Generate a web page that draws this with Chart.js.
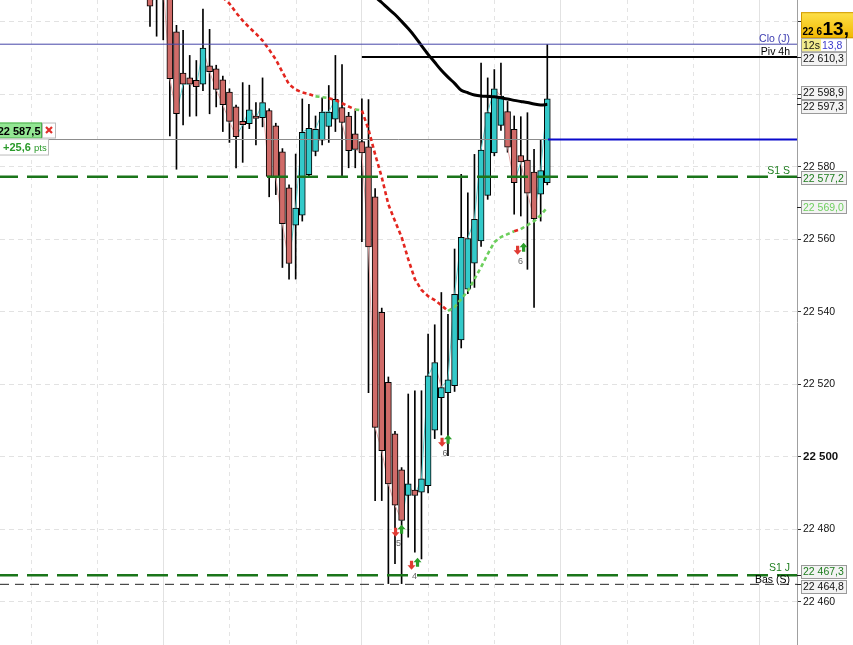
<!DOCTYPE html>
<html><head><meta charset="utf-8">
<script src="https://cdn.jsdelivr.net/npm/chart.js@4.4.1/dist/chart.umd.min.js"></script>
<style>html,body{margin:0;padding:0;background:#fff;overflow:hidden}#wrap{width:853px;height:645px}</style>
</head><body><div id="wrap"><canvas id="c" width="853" height="645"></canvas></div>
<script>
// ---------- DATA ----------
const opens  = [22632,22631,22629,22631,22617.2,22605.8,22604.5,22603.8,22602.8,22607.8,22607,22604,22600.6,22596.5,22592.5,22591.9,22594,22593.5,22595.5,22591.3,22584.1,22574.2,22563.9,22566.6,22577.8,22584.2,22587.3,22591.1,22593.1,22596.3,22594,22589.1,22586.9,22585.5,22571.7,22539.8,22520.5,22506.3,22496.4,22489.3,22490.8,22490.2,22492,22507.3,22516.3,22517.7,22519.6,22532.2,22546.2,22553.4,22559.5,22572.1,22583.8,22591.4,22595.2,22590.3,22583.1,22581.8,22578.5,22572.4,22575.6];
const highs  = [22636,22637,22635,22634,22619,22617.6,22610.7,22609.3,22623.5,22617.9,22608,22605,22601.5,22597,22603.2,22602.5,22597.7,22604.5,22596,22592,22585,22575,22583.5,22598.7,22597.2,22594,22599,22602.4,22610.7,22608.2,22595,22595.4,22598.7,22598.5,22574,22541,22522,22507,22497,22517.3,22518.2,22518.2,22533.8,22536.4,22545.3,22539.3,22557.3,22577.9,22572.8,22583.4,22608.6,22604.5,22606.8,22608.6,22598,22594,22593.8,22594.9,22584.8,22587.5,22613.7];
const lows   = [22618.7,22616,22615,22588.5,22579.3,22591.5,22593.9,22594,22601,22594.6,22596.5,22589.7,22586.7,22579.7,22581.2,22590.5,22586,22591,22571.7,22572.3,22552.2,22549,22549,22565,22577,22583,22586,22586.7,22589.7,22577,22579.7,22579.7,22559.3,22517.7,22487.9,22487.9,22465,22470.5,22465,22477.8,22473.7,22471.8,22490,22505,22506,22500.3,22518,22530,22545,22546.7,22558,22571,22583,22590,22584,22566.9,22566.4,22551.7,22541.2,22565,22575];
const closes = [22624.3,22628,22630,22604.3,22594.6,22602.8,22602.8,22602.1,22612.7,22606.2,22601.3,22597.1,22592.5,22588.3,22591.6,22595.7,22593.3,22597.7,22577.3,22577.1,22564.3,22553.3,22568.6,22589.5,22590.6,22590.3,22595.1,22595.1,22598.6,22592.2,22584.4,22584.8,22583.8,22557.9,22508.1,22501.7,22492.5,22486.6,22482.4,22492.5,22489.3,22493.9,22522.3,22526,22519.1,22521.2,22544.8,22560.5,22560.2,22565.5,22584.6,22594.9,22601.5,22599.5,22585.4,22575.6,22581.3,22572.7,22565.7,22578.9,22598.7];

// moving average (black), starts at candle 30
const maStart = 30;
const maValues = [22635.2,22633.3,22631.1,22628.9,22626.9,22625.3,22623.6,22622.0,22620.1,22618.1,22615.9,22613.4,22611.0,22608.8,22606.6,22604.7,22603.0,22601.1,22600.4,22599.8,22599.5,22599.4,22599.3,22599.0,22598.7,22598.3,22598.0,22597.7,22597.3,22597.0,22597.2];

// trailing stop (red/green dotted), starts at candle 11
const stStart = 11;
const stValues = [22626.7,22625.0,22622.5,22620.3,22618.4,22616.7,22614.8,22612.3,22609.6,22606.1,22602.7,22601.3,22600.5,22600.0,22599.4,22599.2,22598.9,22598.4,22597.5,22596.6,22595.8,22595.5,22590.3,22583.4,22577.1,22569.6,22565.0,22560.6,22554.5,22549.0,22546.0,22544.3,22543.2,22541.8,22540.2,22541.3,22543.5,22545.7,22549.0,22552.3,22555.9,22559.2,22560.6,22561.4,22562.2,22562.8,22563.9,22565.0,22566.6,22568.8];
const stTrend  = [-1,-1,-1,-1,-1,-1,-1,-1,-1,-1,-1,-1,-1,-1,1,1,-1,-1,-1,-1,1,-1,-1,-1,-1,-1,-1,-1,-1,-1,-1,-1,-1,-1,1,1,1,1,1,1,1,1,1,1,-1,1,1,1,1,1];

// horizontal levels
const cloJ = 22613.8, piv4h = 22610.3, pivStart = 32, s1S = 22577.2, s1J = 22467.3, basS = 22464.8;
const position = 22587.5, positionStart = 60.1;
const positionText = '22 587,5', pnlText = '+25,6', pnlUnit = 'pts';

// signals
const sigIdx   = [37.54, 39.95, 44.56, 55.97];
const sigPrice = [22479.6, 22470.5, 22504.4, 22557.4];
const sigLabel = ['5','4','6','6'];

// axes
const yTickValues = [22460,22480,22500,22520,22540,22560,22580,22600,22620];
const yHidden = [22600,22620];
const xGridSolid  = [2,32,62,92];
const xGridDashed = [-18,-8,12,22,42,52,72,82];

// right-side value boxes
const boxValues = [22610.3,22598.9,22597.3,22577.2,22569.0,22467.3,22464.8];
const boxTexts  = ['22 610,3','22 598,9','22 597,3','22 577,2','22 569,0','22 467,3','22 464,8'];
const lineLabels = ['Clo (J)','Piv 4h','S1 S','S1 J','Bas (S)'];
const lastPriceBig = ['22 6','13,'], timerText = '12s', lastDecText = '13,8';

// ---------- STYLES ----------
const boxColors = ['#111','#111','#111','#1e7d1e','#6fcf5f','#1e7d1e','#111'];
const boxShift  = [2,-5.5,2.7,1.3,0.6,-3.5,2.7];
const RED = '#d06b68', CYAN = '#33c9c9', FONT = 'Liberation Sans, Arial, sans-serif';
const X_MIN = -22.65, X_MAX = 97.71, Y_MIN = 22448.06, Y_MAX = 22625.99;

const idx = opens.map((_, i) => i);
const wickData = idx.map(i => ({x: i, y: [lows[i], highs[i]]}));
const bodyData = idx.map(i => ({x: i, y: [opens[i], closes[i]]}));
const closeData = idx.map(i => ({x: i, y: closes[i]}));
const maData = maValues.map((v, k) => ({x: maStart + k, y: v}));
const stData = stValues.map((v, k) => ({x: stStart + k, y: v}));
const hline = (v, from, to) => [{x: from, y: v}, {x: to, y: v}];

const fmtTick = v => { const s = String(Math.round(v)); return s.slice(0, 2) + ' ' + s.slice(2); };

function rbox(ctx, x, y, w, h, fill, stroke) {
  ctx.fillStyle = fill; ctx.fillRect(x, y, w, h);
  if (stroke) { ctx.strokeStyle = stroke; ctx.lineWidth = 1; ctx.strokeRect(x + 0.5, y + 0.5, w - 1, h - 1); }
}
function arrow(ctx, cx, cy, up, color) {
  ctx.fillStyle = color; ctx.beginPath();
  const s = up ? 1 : -1;
  ctx.moveTo(cx, cy - 5 * s); ctx.lineTo(cx + 4, cy - 0.5 * s); ctx.lineTo(cx + 1.6, cy - 0.5 * s);
  ctx.lineTo(cx + 1.6, cy + 4 * s); ctx.lineTo(cx - 1.6, cy + 4 * s); ctx.lineTo(cx - 1.6, cy - 0.5 * s);
  ctx.lineTo(cx - 4, cy - 0.5 * s); ctx.closePath(); ctx.fill();
}

const overlay = {
  id: 'overlay',
  beforeDatasetsDraw(chart) {
    const {ctx, chartArea: a, scales: {x}} = chart;
    ctx.save();
    ctx.strokeStyle = '#e4e4e4'; ctx.lineWidth = 1; ctx.setLineDash([4, 4]);
    xGridDashed.forEach(v => {
      const px = Math.round(x.getPixelForValue(v)) + 0.5;
      ctx.beginPath(); ctx.moveTo(px, a.top); ctx.lineTo(px, a.bottom); ctx.stroke();
    });
    ctx.restore();
  },
  afterDatasetsDraw(chart) {
    const {ctx, chartArea: a, scales: {x, y}} = chart;
    ctx.save();
    sigIdx.forEach((s, k) => {
      const px = x.getPixelForValue(s), py = y.getPixelForValue(sigPrice[k]);
      arrow(ctx, px - 3, py + 1, false, '#e03a32');
      arrow(ctx, px + 3, py - 1, true, '#2a9e2a');
      ctx.fillStyle = '#666'; ctx.font = '9px ' + FONT; ctx.textAlign = 'center'; ctx.textBaseline = 'alphabetic';
      ctx.fillText(sigLabel[k], px, py + 15);
    });
    ctx.textAlign = 'right'; ctx.font = '10.5px ' + FONT;
    const lab = (t, v, c, dy) => { ctx.fillStyle = c; ctx.fillText(t, a.right - 7, y.getPixelForValue(v) + dy); };
    lab(lineLabels[0], cloJ, '#3b3bb0', -2.5);
    lab(lineLabels[1], piv4h, '#000', -2);
    lab(lineLabels[2], s1S, '#1e7d1e', -2.5);
    lab(lineLabels[3], s1J, '#1e7d1e', -4);
    lab(lineLabels[4], basS, '#000', -1.5);
    ctx.restore();
  },
  afterDraw(chart) {
    const {ctx, chartArea: a, scales: {y}} = chart;
    ctx.save();
    ctx.strokeStyle = '#a0a0a0'; ctx.lineWidth = 1;
    ctx.beginPath(); ctx.moveTo(a.right + 0.5, 0); ctx.lineTo(a.right + 0.5, chart.height); ctx.stroke();
    const bx = a.right + 4;
    ctx.textAlign = 'left'; ctx.textBaseline = 'middle'; ctx.font = '10.5px ' + FONT;
    boxValues.forEach((v, k) => {
      const py = y.getPixelForValue(v);
      ctx.strokeStyle = '#222'; ctx.beginPath(); ctx.moveTo(a.right, Math.round(py) + 0.5); ctx.lineTo(bx, Math.round(py) + 0.5); ctx.stroke();
      const cy = py + boxShift[k];
      rbox(ctx, bx, Math.round(cy - 7), 46, 14, '#f3f3f3', '#9a9a9a');
      ctx.fillStyle = boxColors[k]; ctx.fillText(boxTexts[k], bx + 2, cy + 0.5);
    });
    // yellow last price box
    const cyc = y.getPixelForValue(cloJ);
    const grad = ctx.createLinearGradient(0, cyc - 32, 0, cyc - 6);
    grad.addColorStop(0, '#fde04a'); grad.addColorStop(1, '#f2b800');
    rbox(ctx, bx, cyc - 32, 60, 26, grad, '#d29b00');
    ctx.fillStyle = '#000'; ctx.textBaseline = 'alphabetic';
    ctx.font = 'bold 10px ' + FONT; ctx.fillText(lastPriceBig[0], bx + 1.5, cyc - 9);
    ctx.font = 'bold 19px ' + FONT; ctx.fillText(lastPriceBig[1], bx + 21.5, cyc - 9);
    // timer / decimals box
    rbox(ctx, bx, cyc - 6, 46, 14, '#ffffff', '#9a9a9a');
    rbox(ctx, bx + 1, cyc - 5, 19, 12, '#f2eb8c', null);
    ctx.font = '10.5px ' + FONT; ctx.fillStyle = '#111'; ctx.fillText(timerText, bx + 2, cyc + 5);
    ctx.fillStyle = '#3b3bcc'; ctx.fillText(lastDecText, bx + 21, cyc + 5);
    // left position label
    const pp = y.getPixelForValue(position);
    rbox(ctx, -2, pp - 17, 44, 16, '#93e693', '#4caf4c');
    ctx.fillStyle = '#000'; ctx.font = 'bold 11px ' + FONT; ctx.textAlign = 'right';
    ctx.fillText(positionText, 40.5, pp - 5);
    rbox(ctx, 42, pp - 17, 14, 16, '#ffffff', '#bbbbbb');
    ctx.strokeStyle = '#e0302a'; ctx.lineWidth = 2.2; ctx.beginPath();
    ctx.moveTo(46, pp - 12.5); ctx.lineTo(52, pp - 6.5); ctx.moveTo(52, pp - 12.5); ctx.lineTo(46, pp - 6.5); ctx.stroke();
    rbox(ctx, -1, pp - 1, 50, 17, '#ffffff', '#bbbbbb');
    ctx.textAlign = 'left'; ctx.fillStyle = '#2a9a2a'; ctx.font = 'bold 11px ' + FONT;
    ctx.fillText(pnlText, 3, pp + 11.5);
    ctx.font = '9.5px ' + FONT; ctx.fillText(pnlUnit, 34, pp + 11.5);
    ctx.restore();
  }
};

new Chart(document.getElementById('c'), {
  type: 'bar',
  data: {
    datasets: [
      {type: 'bar', data: wickData, backgroundColor: '#000', borderWidth: 0, barThickness: 1, grouped: false, order: 10},
      {type: 'line', data: closeData, borderWidth: 1, pointRadius: 0, order: 9,
        segment: {borderColor: c => c.p1.parsed.y >= c.p0.parsed.y ? '#5fd6d6' : '#e6a7a7'}},
      {type: 'bar', data: bodyData, backgroundColor: idx.map(i => closes[i] >= opens[i] ? CYAN : RED),
        borderColor: '#000', borderWidth: 1, borderSkipped: false, barThickness: 6, grouped: false, order: 8},
      {type: 'line', data: hline(position, X_MIN, X_MAX), borderColor: '#8c8c8c', borderWidth: 1, pointRadius: 0, order: 6},
      {type: 'line', data: hline(position, positionStart, X_MAX), borderColor: '#0a0acc', borderWidth: 2, pointRadius: 0, order: 5},
      {type: 'line', data: stData, borderWidth: 2.6, borderDash: [4, 3], pointRadius: 0, order: 4,
        segment: {borderColor: c => stTrend[c.p0DataIndex] > 0 ? '#6ccf5c' : '#e3261f'}},
      {type: 'line', data: maData, borderColor: '#000', borderWidth: 3, pointRadius: 0, tension: 0.3, order: 3},
      {type: 'line', data: hline(cloJ, X_MIN, X_MAX), borderColor: '#4646a8', borderWidth: 1, pointRadius: 0, order: 2},
      {type: 'line', data: hline(piv4h, pivStart, X_MAX), borderColor: '#000', borderWidth: 2, pointRadius: 0, order: 2},
      {type: 'line', data: hline(s1S, X_MIN, X_MAX), borderColor: '#1a751a', borderWidth: 2.5, borderDash: [21, 9], borderDashOffset: 3, pointRadius: 0, order: 2},
      {type: 'line', data: hline(basS, X_MIN, X_MAX), borderColor: '#222', borderWidth: 1, borderDash: [9, 6], pointRadius: 0, order: 2},
      {type: 'line', data: hline(s1J, X_MIN, X_MAX), borderColor: '#1a751a', borderWidth: 2.5, borderDash: [21, 9], borderDashOffset: 3, pointRadius: 0, order: 1}
    ]
  },
  options: {
    responsive: false, animation: false, devicePixelRatio: 1,
    layout: {padding: 0},
    plugins: {legend: {display: false}, tooltip: {enabled: false}},
    scales: {
      x: {
        type: 'linear', min: X_MIN, max: X_MAX, offset: false,
        afterBuildTicks: s => { s.ticks = xGridSolid.map(v => ({value: v})); },
        afterFit: s => { s.height = 0; s.paddingLeft = 0; s.paddingRight = 0; },
        ticks: {display: false},
        grid: {color: '#e2e2e2', lineWidth: 1, drawTicks: false, offset: false},
        border: {display: false}
      },
      y: {
        position: 'right', min: Y_MIN, max: Y_MAX,
        afterBuildTicks: s => { s.ticks = yTickValues.map(v => ({value: v})); },
        afterFit: s => { s.width = 56; s.paddingTop = 0; s.paddingBottom = 0; },
        ticks: {
          padding: 2, color: '#111',
          font: c => ({family: FONT, size: (c.tick && c.tick.value === 22500) ? 11.5 : 10.5, weight: (c.tick && c.tick.value === 22500) ? 'bold' : 'normal'}),
          callback: v => yHidden.includes(v) ? '' : fmtTick(v)
        },
        grid: {color: '#e2e2e2', lineWidth: 1, tickLength: 4, tickColor: '#333', tickBorderDash: [], drawTicks: true},
        border: {display: false, dash: [5, 4]}
      }
    }
  },
  plugins: [overlay]
});
</script>
</body></html>
